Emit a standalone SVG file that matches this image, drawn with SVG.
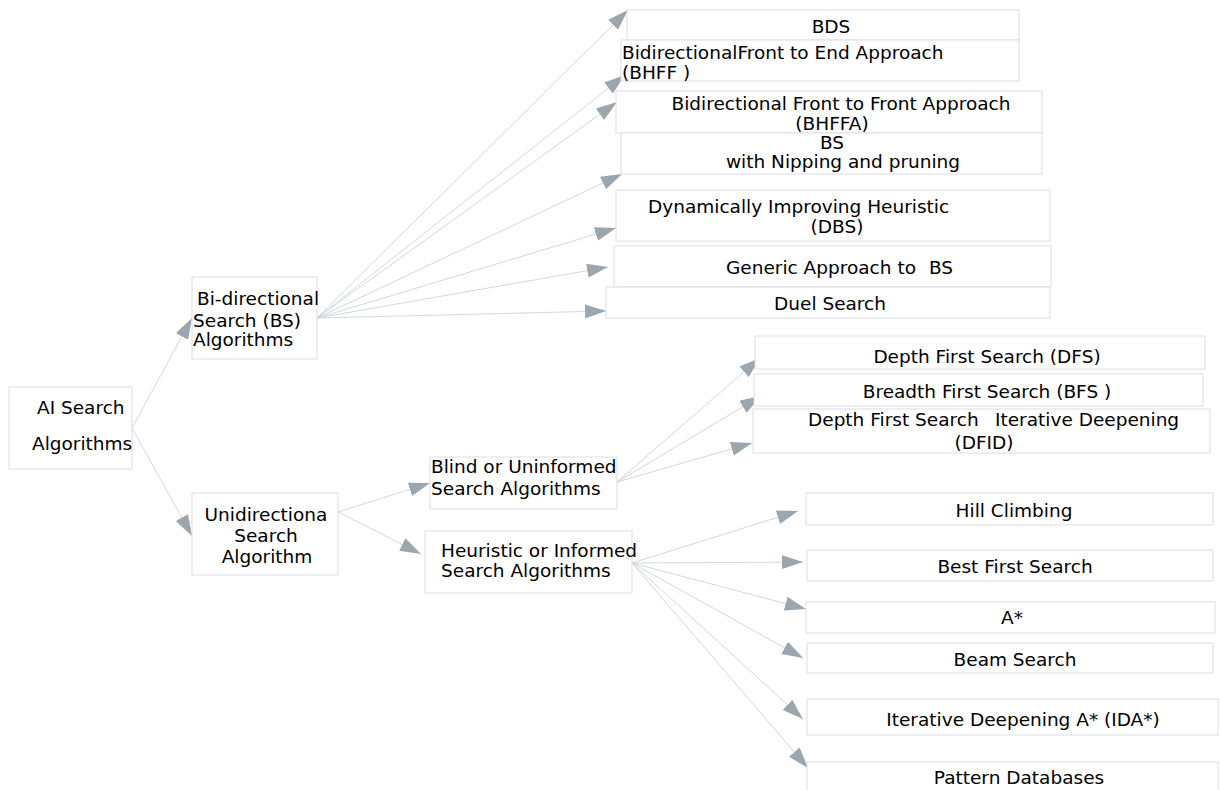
<svg xmlns="http://www.w3.org/2000/svg" width="1220" height="790" viewBox="0 0 1220 790">
  <style>
    .box { fill: #ffffff; stroke: #d9dee3; stroke-width: 1; }
    .lbl { font-family: "DejaVu Sans", Verdana, sans-serif; font-size: 18.5px; fill: #000000; }
    .mid { text-anchor: middle; }
    .edge { stroke: #ccd3d9; stroke-width: 0.9; fill: none; marker-end: url(#arrow); }
  </style>
  <defs>
    <marker id="arrow" markerUnits="userSpaceOnUse" markerWidth="22" markerHeight="16" viewBox="0 0 22 16" refX="21" refY="7" orient="auto">
      <path d="M0,0 L21,7 L0,14 z" fill="#9ba6ae"/>
    </marker>
  </defs>
  <rect width="1220" height="790" fill="#ffffff"/>

  <!-- connectors -->
  <g id="connectors">
    <line class="edge" x1="132" y1="428" x2="192" y2="318"/>
    <line class="edge" x1="132" y1="428" x2="192" y2="536"/>
    <line class="edge" x1="317" y1="318" x2="628" y2="10"/>
    <line class="edge" x1="317" y1="318" x2="625" y2="75"/>
    <line class="edge" x1="317" y1="318" x2="617" y2="102"/>
    <line class="edge" x1="317" y1="318" x2="622" y2="174"/>
    <line class="edge" x1="317" y1="318" x2="616" y2="228"/>
    <line class="edge" x1="317" y1="318" x2="608" y2="267"/>
    <line class="edge" x1="317" y1="318" x2="606" y2="311"/>
    <line class="edge" x1="338" y1="512" x2="430" y2="483"/>
    <line class="edge" x1="338" y1="512" x2="421" y2="554"/>
    <line class="edge" x1="617" y1="482" x2="760" y2="358"/>
    <line class="edge" x1="617" y1="482" x2="761" y2="396"/>
    <line class="edge" x1="617" y1="482" x2="752" y2="443"/>
    <line class="edge" x1="632" y1="563" x2="798" y2="511"/>
    <line class="edge" x1="632" y1="563" x2="803" y2="562"/>
    <line class="edge" x1="632" y1="563" x2="806" y2="609"/>
    <line class="edge" x1="632" y1="563" x2="803" y2="658"/>
    <line class="edge" x1="632" y1="563" x2="803" y2="719"/>
    <line class="edge" x1="632" y1="563" x2="808" y2="768"/>
  </g>

  <!-- root -->
  <g id="ai-search">
    <rect class="box" x="9" y="387" width="123" height="82"/>
    <text class="lbl" x="37" y="414">AI Search</text>
    <text class="lbl" x="32" y="450">Algorithms</text>
  </g>

  <!-- second level -->
  <g id="bidirectional">
    <rect class="box" x="192" y="277" width="125" height="82"/>
    <text class="lbl" x="197" y="305">Bi-directional</text>
    <text class="lbl" x="193" y="327">Search (BS)</text>
    <text class="lbl" x="193" y="346">Algorithms</text>
  </g>
  <g id="unidirectional">
    <rect class="box" x="192" y="493" width="146" height="82"/>
    <text class="lbl mid" x="266" y="521">Unidirectiona</text>
    <text class="lbl mid" x="266" y="542">Search</text>
    <text class="lbl mid" x="267" y="563">Algorithm</text>
  </g>

  <!-- third level -->
  <g id="blind">
    <rect class="box" x="430" y="457" width="187" height="52"/>
    <text class="lbl" x="431" y="473">Blind or Uninformed</text>
    <text class="lbl" x="431" y="495">Search Algorithms</text>
  </g>
  <g id="heuristic">
    <rect class="box" x="425" y="531" width="207" height="62"/>
    <text class="lbl" x="441" y="557">Heuristic or Informed</text>
    <text class="lbl" x="441" y="577">Search Algorithms</text>
  </g>

  <!-- bi-directional leaves -->
  <g id="bds">
    <rect class="box" x="627" y="10" width="392" height="30"/>
    <text class="lbl mid" x="831" y="33">BDS</text>
  </g>
  <g id="bhff">
    <rect class="box" x="621" y="40" width="398" height="41"/>
    <text class="lbl" x="622" y="59">BidirectionalFront to End Approach</text>
    <text class="lbl" x="622" y="79">(BHFF )</text>
  </g>
  <g id="bhffa">
    <rect class="box" x="616" y="91" width="426" height="42"/>
    <text class="lbl mid" x="841" y="110">Bidirectional Front to Front Approach</text>
    <text class="lbl mid" x="832" y="130">(BHFFA)</text>
  </g>
  <g id="nipping">
    <rect class="box" x="621" y="133" width="421" height="41"/>
    <text class="lbl mid" x="832" y="149">BS</text>
    <text class="lbl mid" x="843" y="168">with Nipping and pruning</text>
  </g>
  <g id="dbs">
    <rect class="box" x="616" y="190" width="434" height="51"/>
    <text class="lbl" x="648" y="213">Dynamically Improving Heuristic</text>
    <text class="lbl mid" x="837" y="233">(DBS)</text>
  </g>
  <g id="generic">
    <rect class="box" x="614" y="246" width="437" height="41"/>
    <text class="lbl" x="726" y="274">Generic Approach to<tspan x="929">BS</tspan></text>
  </g>
  <g id="duel">
    <rect class="box" x="606" y="287" width="444" height="31"/>
    <text class="lbl mid" x="830" y="310">Duel Search</text>
  </g>

  <!-- uninformed leaves -->
  <g id="dfs">
    <rect class="box" x="755" y="336" width="450" height="33"/>
    <text class="lbl mid" x="987" y="363">Depth First Search (DFS)</text>
  </g>
  <g id="bfs">
    <rect class="box" x="754" y="374" width="449" height="32"/>
    <text class="lbl mid" x="987" y="398">Breadth First Search (BFS )</text>
  </g>
  <g id="dfid">
    <rect class="box" x="753" y="409" width="457" height="44"/>
    <text class="lbl" x="808" y="426">Depth First Search<tspan x="995">Iterative Deepening</tspan></text>
    <text class="lbl mid" x="984" y="449">(DFID)</text>
  </g>

  <!-- informed leaves -->
  <g id="hill">
    <rect class="box" x="806" y="493" width="407" height="32"/>
    <text class="lbl mid" x="1014" y="517">Hill Climbing</text>
  </g>
  <g id="best-first">
    <rect class="box" x="807" y="550" width="406" height="31"/>
    <text class="lbl mid" x="1015" y="573">Best First Search</text>
  </g>
  <g id="a-star">
    <rect class="box" x="806" y="602" width="409" height="31"/>
    <text class="lbl mid" x="1012" y="624">A*</text>
  </g>
  <g id="beam">
    <rect class="box" x="807" y="643" width="406" height="30"/>
    <text class="lbl mid" x="1015" y="666">Beam Search</text>
  </g>
  <g id="ida-star">
    <rect class="box" x="807" y="699" width="411" height="36"/>
    <text class="lbl mid" x="1023" y="726">Iterative Deepening A* (IDA*)</text>
  </g>
  <g id="pattern-db">
    <rect class="box" x="807" y="762" width="411" height="40"/>
    <text class="lbl mid" x="1019" y="784">Pattern Databases</text>
  </g>
</svg>
